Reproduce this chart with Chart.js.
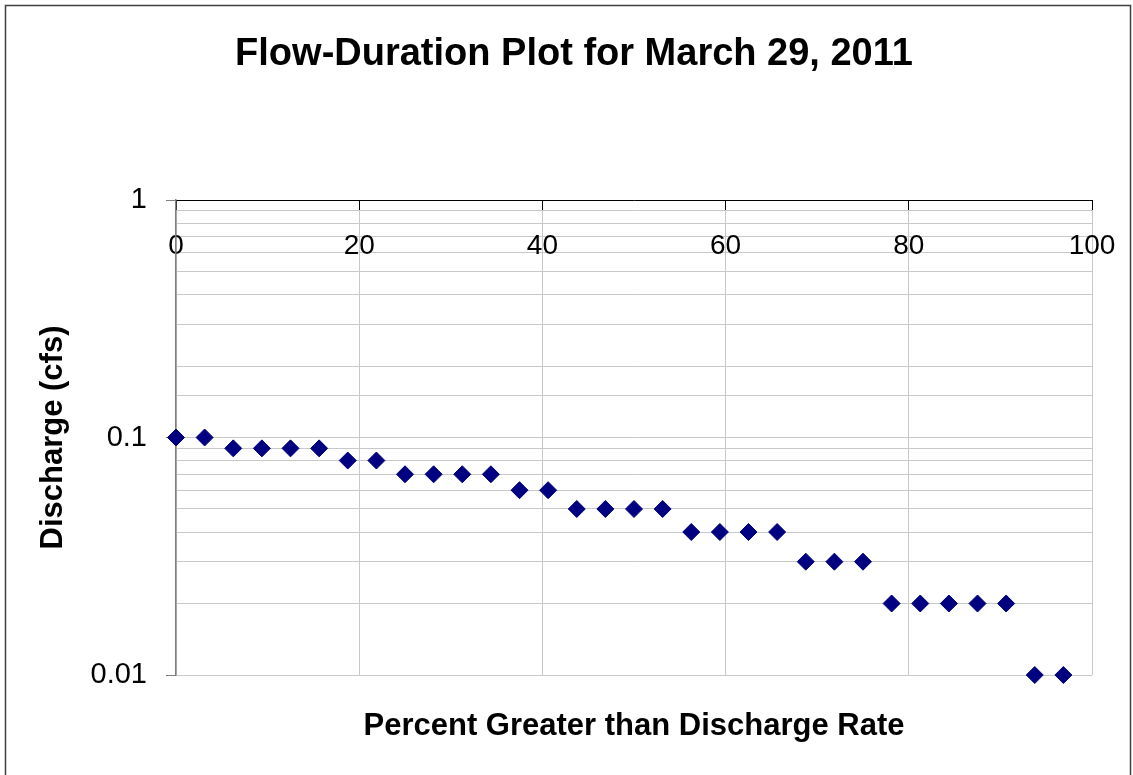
<!DOCTYPE html>
<html>
<head>
<meta charset="utf-8">
<title>Flow-Duration Plot</title>
<script src="https://cdn.jsdelivr.net/npm/chart.js@4.4.1/dist/chart.umd.min.js"></script>
<style>
  html, body { margin: 0; padding: 0; background: #fff; }
  #chart { display: block; }
</style>
</head>
<body>
<canvas id="chart" width="1133" height="775"></canvas>
<script>
// values
const percentGreater = [0, 3.125, 6.25, 9.375, 12.5, 15.625, 18.75, 21.875,
    25, 28.125, 31.25, 34.375, 37.5, 40.625, 43.75, 46.875,
    50, 53.125, 56.25, 59.375, 62.5, 65.625, 68.75, 71.875,
    75, 78.125, 81.25, 84.375, 87.5, 90.625, 93.75, 96.875];
const discharge = [0.1, 0.1, 0.09, 0.09, 0.09, 0.09, 0.08, 0.08,
    0.07, 0.07, 0.07, 0.07, 0.06, 0.06, 0.05, 0.05,
    0.05, 0.05, 0.04, 0.04, 0.04, 0.04, 0.03, 0.03,
    0.03, 0.02, 0.02, 0.02, 0.02, 0.02, 0.01, 0.01];
const yMajorTicks = [0.01, 0.1, 1];

Chart.defaults.font.family = '"Liberation Sans", Arial, sans-serif';
Chart.defaults.color = '#000';

const isMajor = v => yMajorTicks.some(m => Math.abs(m - v) < 1e-9);

// white page + outer frame
const frame = {
    id: 'frame',
    beforeDraw(chart) {
        const ctx = chart.ctx;
        ctx.save();
        ctx.fillStyle = '#fff';
        ctx.fillRect(0, 0, chart.width, chart.height);
        ctx.strokeStyle = '#404040';
        ctx.lineWidth = 1.5;
        ctx.strokeRect(5.5, 5.5, 1125, 800);
        ctx.restore();
    }
};

new Chart(document.getElementById('chart'), {
    type: 'scatter',
    data: {
        datasets: [{
            label: 'Discharge',
            data: percentGreater.map((p, i) => ({ x: p, y: discharge[i] })),
            xAxisID: 'x',
            yAxisID: 'y',
            clip: false,
            pointStyle: 'rectRot',
            pointRadius: 8.5,
            pointHoverRadius: 8.5,
            backgroundColor: '#000080',
            borderColor: '#000080',
            borderWidth: 1
        }]
    },
    options: {
        responsive: false,
        animation: false,
        layout: { padding: { left: 15, right: 0, top: 0, bottom: 0 } },
        plugins: {
            legend: { display: false },
            tooltip: { enabled: false },
            title: {
                display: true,
                text: 'Flow-Duration Plot for March 29, 2011',
                font: { size: 38, weight: 'bold' },
                color: '#000',
                padding: { top: 31.7, bottom: 22.7 }
            }
        },
        scales: {
            x: {
                type: 'linear',
                position: 'top',
                min: 0,
                max: 100,
                // labels sit inside the plot, so no side overhang is needed
                afterFit: s => { s.height = 100; s.paddingLeft = 0; s.paddingRight = 0; },
                ticks: { stepSize: 20, font: { size: 28 }, color: '#000', mirror: true, padding: 29, maxRotation: 0, autoSkip: false },
                grid: { color: '#c8c8c8', lineWidth: 1, tickLength: -10, tickColor: '#000' },
                border: { color: '#000', width: 1 }
            },
            xb: {
                type: 'linear',
                axis: 'x',
                position: 'bottom',
                afterFit: s => { s.height = 100; },
                ticks: { display: false },
                grid: { display: false },
                border: { display: false },
                title: {
                    display: true,
                    text: 'Percent Greater than Discharge Rate',
                    font: { size: 31, weight: 'bold' },
                    color: '#000',
                    padding: { top: 0, bottom: 30.4 }
                }
            },
            y: {
                type: 'logarithmic',
                position: 'left',
                min: 0.01,
                max: 1,
                afterFit: s => { s.width = 161; },
                ticks: {
                    font: { size: 29 },
                    color: '#000',
                    padding: 19,
                    autoSkip: false,
                    callback: v => isMajor(v) ? String(v) : ''
                },
                grid: {
                    color: '#c8c8c8',
                    lineWidth: 1,
                    tickLength: 10,
                    tickColor: c => isMajor(c.tick.value) ? '#808080' : 'rgba(0,0,0,0)'
                },
                border: { color: '#808080', width: 1.5 },
                title: {
                    display: true,
                    text: 'Discharge (cfs)',
                    font: { size: 31, weight: 'bold' },
                    color: '#000',
                    padding: { top: 19.4, bottom: 0 }
                }
            },
            // empty strip on the right of the plot
            yr: {
                type: 'linear',
                axis: 'y',
                position: 'right',
                afterFit: s => { s.width = 41; },
                ticks: { display: false },
                grid: { display: false },
                border: { display: false }
            }
        }
    },
    plugins: [frame]
});
</script>
</body>
</html>
